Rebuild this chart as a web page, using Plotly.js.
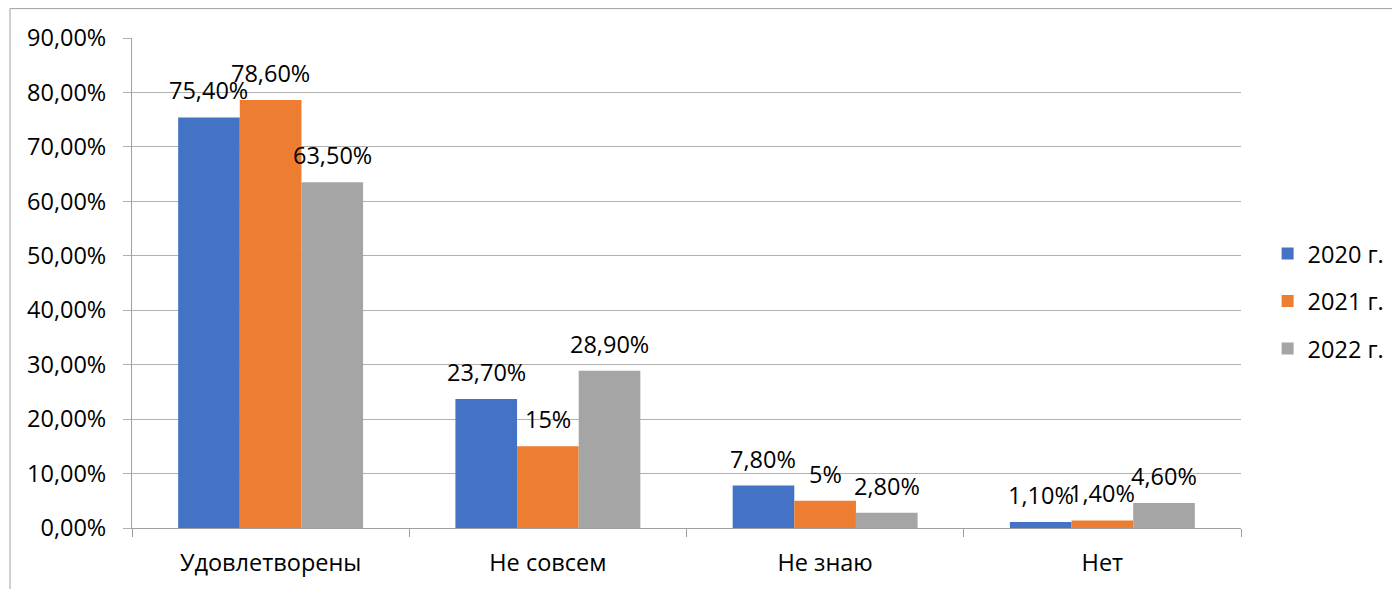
<!DOCTYPE html>
<html>
<head>
<meta charset="utf-8">
<script src="https://cdn.plot.ly/plotly-3.0.1.min.js"></script>
<style>
html,body{margin:0;padding:0;background:#fff;overflow:hidden;}
#chart{width:1392px;height:589px;}
</style>
</head>
<body>
<div id="chart"></div>
<script>
const categories = ["Удовлетворены", "Не совсем", "Не знаю", "Нет"];
const seriesNames = ["2020 г.", "2021 г.", "2022 г."];
const values2020 = [0.754, 0.237, 0.078, 0.011];
const values2021 = [0.786, 0.15, 0.05, 0.014];
const values2022 = [0.635, 0.289, 0.028, 0.046];
const labels2020 = ["75,40%", "23,70%", "7,80%", "1,10%"];
const labels2021 = ["78,60%", "15%", "5%", "1,40%"];
const labels2022 = ["63,50%", "28,90%", "2,80%", "4,60%"];
const colors = ["#4472C4", "#ED7D31", "#A5A5A5"];

const allValues = [values2020, values2021, values2022];
const allLabels = [labels2020, labels2021, labels2022];
const bargap = 0.333;
const FONT = "Open Sans, Noto Sans, sans-serif";

const traces = seriesNames.map((name, i) => ({
  type: "bar",
  name: name,
  x: categories,
  y: allValues[i],
  marker: {color: colors[i], line: {width: 0}},
  legendgroup: "g" + i,
  hoverinfo: "skip"
}));

const annotations = [];
allValues.forEach((vals, i) => {
  vals.forEach((v, ci) => {
    annotations.push({
      x: ci + (i - 1) * (1 - bargap) / 3,
      y: v,
      xref: "x", yref: "y",
      text: allLabels[i][ci],
      showarrow: false,
      xanchor: "center", yanchor: "middle",
      yshift: 27,
      font: {family: FONT, size: 23.5, color: "#000"}
    });
  });
});

const layout = {
  width: 1392, height: 589,
  margin: {l: 131.5, r: 151, t: 38, b: 61, autoexpand: false},
  paper_bgcolor: "#fff", plot_bgcolor: "#fff",
  separators: ", ",
  barmode: "group",
  bargap: bargap,
  bargroupgap: 0,
  font: {family: FONT, size: 23.5, color: "#000"},
  xaxis: {
    type: "category",
    showgrid: false,
    showline: true, linecolor: "#a0a0a0", linewidth: 1,
    ticks: "outside", tickson: "boundaries", ticklen: 8, tickcolor: "#a0a0a0",
    ticklabelstandoff: 14,
    tickfont: {family: FONT, size: 23.5, color: "#000"},
    automargin: false,
    fixedrange: true
  },
  yaxis: {
    range: [0, 0.9], dtick: 0.1, tick0: 0,
    tickformat: ".2%",
    showgrid: true, gridcolor: "#b0b0b0", gridwidth: 1,
    showline: true, linecolor: "#a0a0a0", linewidth: 1,
    ticks: "outside", ticklen: 8, tickcolor: "#b0b0b0",
    ticklabelstandoff: 12,
    zeroline: false,
    tickfont: {family: FONT, size: 23.5, color: "#000"},
    automargin: false,
    fixedrange: true
  },
  legend: {
    x: 1.024, xanchor: "left",
    y: 0.463, yanchor: "middle",
    tracegroupgap: 14,
    font: {family: FONT, size: 23.5, color: "#000"},
    bgcolor: "rgba(0,0,0,0)"
  },
  showlegend: true,
  annotations: annotations,
  shapes: [{
    type: "rect", xref: "paper", yref: "paper",
    x0: -0.11, x1: 1.3, y0: -0.3, y1: 1.06,
    line: {color: "#a0a0a0", width: 1}, fillcolor: "rgba(0,0,0,0)",
    layer: "below"
  }]
};

Plotly.newPlot("chart", traces, layout, {displayModeBar: false, staticPlot: true});
</script>
</body>
</html>
